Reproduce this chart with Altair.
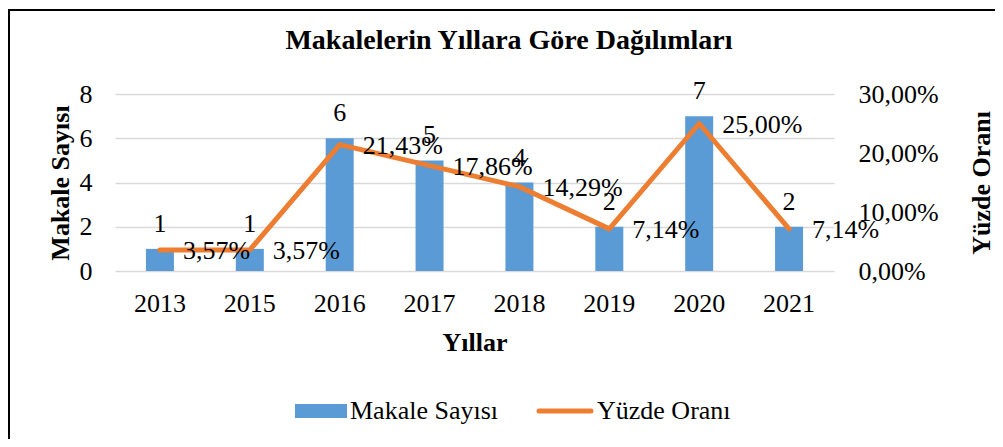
import altair as alt
import pandas as pd

years = ["2013", "2015", "2016", "2017", "2018", "2019", "2020", "2021"]
counts = [1, 1, 6, 5, 4, 2, 7, 2]
pcts = [0.0357, 0.0357, 0.2143, 0.1786, 0.1429, 0.0714, 0.25, 0.0714]
left_ticks = [0, 2, 4, 6, 8]
right_ticks = [0, 0.1, 0.2, 0.3]

title_text = "Makalelerin Yıllara Göre Dağılımları"
legend_bar = "Makale Sayısı"
legend_line = "Yüzde Oranı"

FONT = "Liberation Serif"
W, H = 719, 177

df = pd.DataFrame({"year": years, "count": counts, "pct": pcts})

xenc = alt.X(
    "year:O",
    sort=years,
    scale=alt.Scale(paddingInner=0, paddingOuter=0),
    axis=alt.Axis(
        title="Yıllar", labelAngle=0, labelFont=FONT, labelFontSize=26, labelColor="#000",
        labelBaseline="alphabetic", labelPadding=40, ticks=False, tickSize=0, domain=False,
        titleFont=FONT, titleFontSize=26, titleFontWeight="bold", titleColor="#000",
        titleBaseline="alphabetic", titleX=W / 2, titleY=79,
    ),
)

bars = alt.Chart(df).mark_bar(color="#5B9BD5", size=28).encode(
    x=xenc,
    y=alt.Y(
        "count:Q",
        scale=alt.Scale(domain=[0, 8], nice=False),
        axis=alt.Axis(
            values=left_ticks, title="Makale Sayısı", labelFont=FONT, labelFontSize=26,
            labelColor="#000", labelPadding=23, ticks=False, tickSize=0, domain=False,
            grid=True, gridColor="#D9D9D9", gridWidth=1.5,
            titleFont=FONT, titleFontSize=26, titleFontWeight="bold", titleColor="#000",
            titleAngle=270, titleBaseline="alphabetic", titleX=-47, titleY=H / 2,
        ),
    ),
)
bar_text = alt.Chart(df).mark_text(
    font=FONT, fontSize=26, color="#000", baseline="alphabetic", dy=-17
).encode(
    x=alt.X("year:O", sort=years),
    y=alt.Y("count:Q"),
    text=alt.Text("count:Q"),
)

line = alt.Chart(df).mark_line(
    color="#ED7D31", strokeWidth=5, strokeCap="round", strokeJoin="round"
).encode(
    x=alt.X("year:O", sort=years),
    y=alt.Y(
        "pct:Q",
        scale=alt.Scale(domain=[0, 0.3], nice=False),
        axis=alt.Axis(
            orient="right", values=right_ticks, title="Yüzde Oranı",
            labelExpr="replace(format(datum.value, '.2%'), '.', ',')",
            labelFont=FONT, labelFontSize=26, labelColor="#000", labelPadding=24,
            ticks=False, tickSize=0, domain=False, grid=False,
            titleFont=FONT, titleFontSize=26, titleFontWeight="bold", titleColor="#000",
            titleAngle=270, titleBaseline="alphabetic", titleX=155, titleY=H / 2,
        ),
    ),
)
line_text = alt.Chart(df).transform_calculate(
    lbl="replace(format(datum.pct, '.2%'), '.', ',')"
).mark_text(
    font=FONT, fontSize=26, color="#000", align="left", baseline="alphabetic", dx=23, dy=9
).encode(
    x=alt.X("year:O", sort=years),
    y=alt.Y("pct:Q"),
    text="lbl:N",
)

one = alt.Data(values=[{}])

title = alt.Chart(one).mark_text(
    font=FONT, fontSize=28, fontWeight="bold", color="#000", align="center", baseline="alphabetic"
).encode(x=alt.value(394), y=alt.value(-45), text=alt.value(title_text))

top_border = alt.Chart(one).mark_rule(color="#000", strokeWidth=2).encode(
    x=alt.value(-107), x2=alt.value(880), y=alt.value(-84)
)
left_border = alt.Chart(one).mark_rule(color="#000", strokeWidth=2).encode(
    x=alt.value(-106), y=alt.value(-85), y2=alt.value(345)
)

leg_rect = alt.Chart(one).mark_rect(color="#5B9BD5").encode(
    x=alt.value(180), x2=alt.value(232), y=alt.value(310), y2=alt.value(324)
)
leg_text1 = alt.Chart(one).mark_text(
    font=FONT, fontSize=26, color="#000", align="left", baseline="alphabetic"
).encode(x=alt.value(235), y=alt.value(325), text=alt.value(legend_bar))
leg_line = alt.Chart(one).mark_rule(color="#ED7D31", strokeWidth=5, strokeCap="round").encode(
    x=alt.value(424), x2=alt.value(476), y=alt.value(317)
)
leg_text2 = alt.Chart(one).mark_text(
    font=FONT, fontSize=26, color="#000", align="left", baseline="alphabetic"
).encode(x=alt.value(482), y=alt.value(325), text=alt.value(legend_line))

main = alt.layer(
    alt.layer(bars, bar_text),
    alt.layer(line, line_text),
).resolve_scale(y="independent")

chart = alt.layer(
    main, title, top_border, left_border, leg_rect, leg_text1, leg_line, leg_text2
).properties(
    width=W, height=H,
    autosize=alt.AutoSizeParams(type="none"),
    padding={"left": 107, "top": 86, "right": 161, "bottom": 168},
    background="white",
).configure_view(stroke=None)

chart.save("out.html", embed_options={"renderer": "svg", "actions": False})
